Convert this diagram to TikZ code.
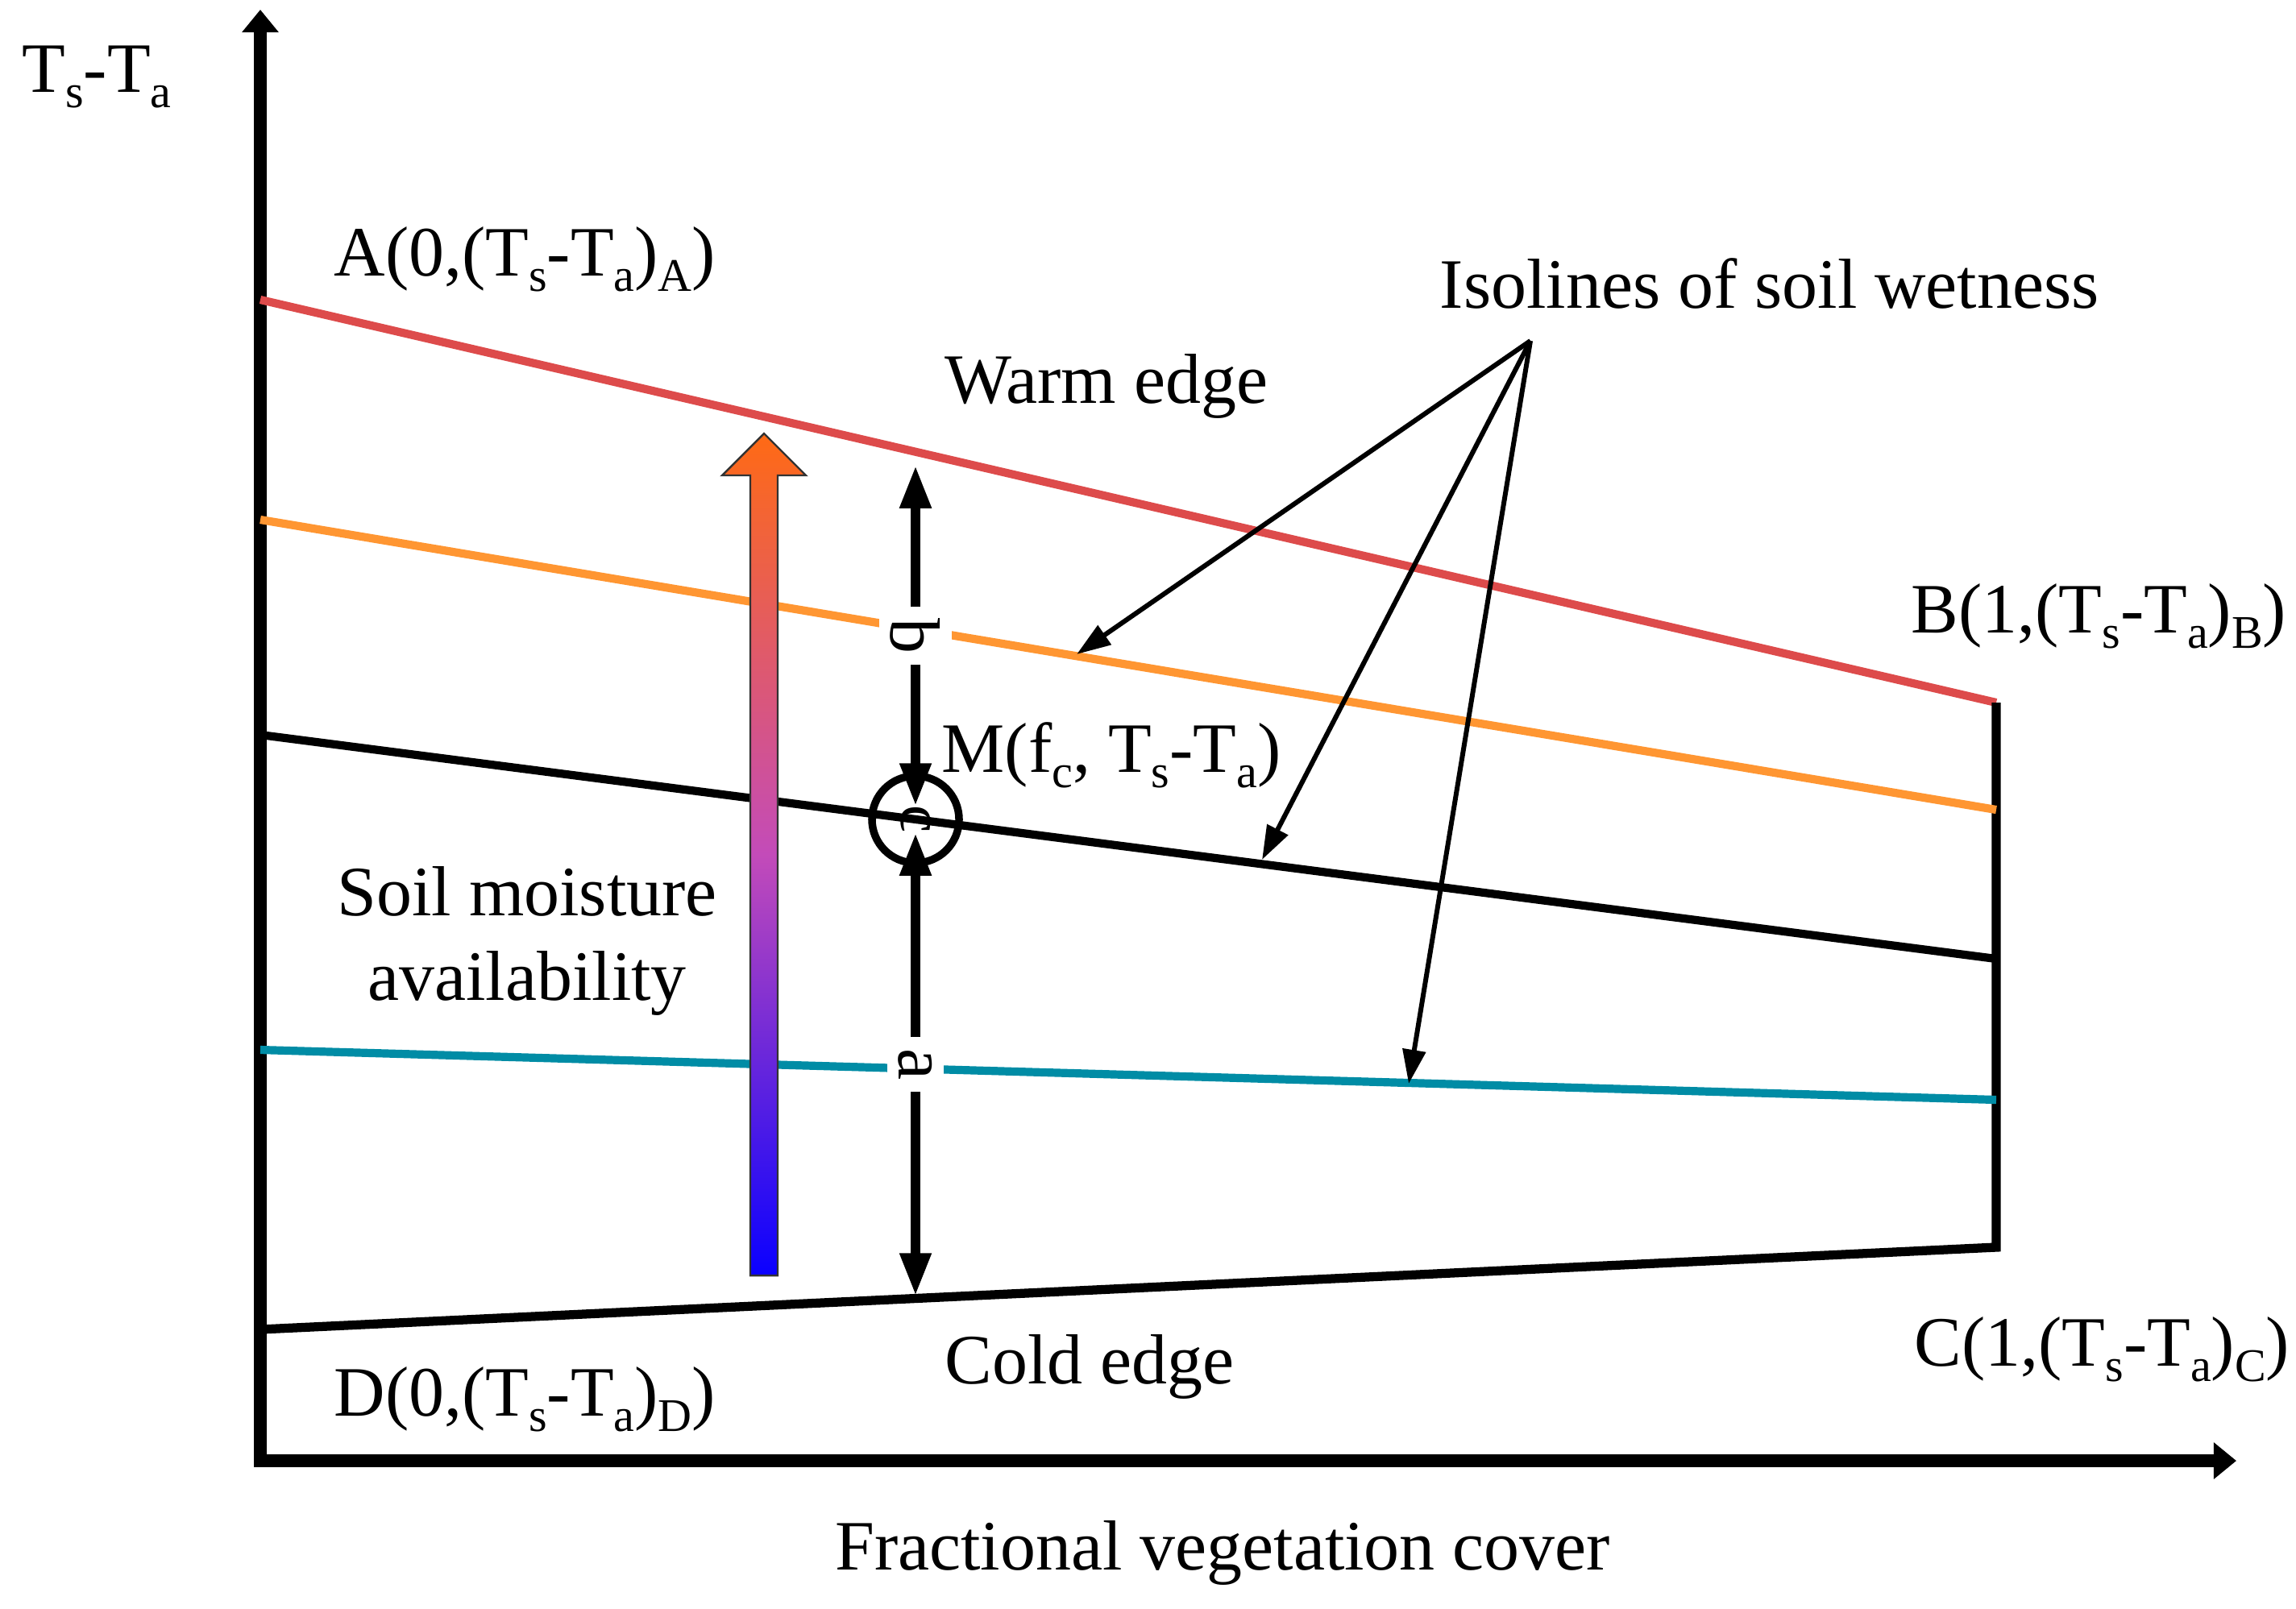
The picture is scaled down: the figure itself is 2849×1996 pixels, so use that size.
\documentclass[tikz,border=0pt]{standalone}
\usepackage{fontspec}
\setmainfont{Liberation Serif}
\usetikzlibrary{arrows.meta,positioning}

\newcommand{\low}[1]{\raisebox{-0.22em}{\fontsize{16.5}{16.5}\selectfont #1}}

\definecolor{warmred}{RGB}{221,75,75}
\definecolor{isoorange}{RGB}{255,150,50}
\definecolor{isoteal}{RGB}{0,140,165}
\definecolor{arrowtop}{RGB}{255,106,20}
\definecolor{arrowmid}{RGB}{195,75,185}
\definecolor{arrowbot}{RGB}{10,0,255}

\begin{document}
\begin{tikzpicture}[x=0.01cm,
					y=-0.01cm,
					font=\fontsize{25}{30}\selectfont,
					axis line/.style={line width=4.8pt, line join=miter,
						{Triangle[length=8pt,width=12.5pt]}-{Triangle[length=8pt,width=12.5pt]}},
					edge line/.style={line width=2.9pt},
					dim arrow/.style={line width=3.2pt,
						{Triangle[length=15pt,width=10.5pt]}-{Triangle[length=15pt,width=10.5pt]}},
					note arrow/.style={line width=1.7pt, -{Triangle[length=12pt,width=8pt]}},
					point label/.style={inner sep=0pt, anchor=base west},
					dim label/.style={fill=white, inner sep=4pt, rotate=-90}]

  \useasboundingbox (0,0) rectangle (2849,1996);

  % axes and corner points
  \coordinate (O) at (323,1813);
  \coordinate (Ytip) at (323,12);
  \coordinate (Xtip) at (2775,1813);
  \coordinate (A) at (323,372);
  \coordinate (B) at (2477,872);
  \coordinate (C) at (2477,1548);
  \coordinate (D) at (323,1650);

  % isolines
  \coordinate (or1) at (323,645);
  \coordinate (or2) at (2477,1005);
  \coordinate (bl1) at (323,912);
  \coordinate (bl2) at (2477,1190);
  \coordinate (te1) at (323,1303);
  \coordinate (te2) at (2477,1365);

  \draw[axis line] (Ytip) -- (O) -- (Xtip);

  \draw[edge line, warmred] (A) -- (B);
  \draw[edge line, line width=3.2pt, line join=miter] (B) -- (C) -- (D);
  \draw[edge line, isoorange] (or1) -- (or2);
  \draw[edge line] (bl1) -- (bl2);
  \draw[edge line, isoteal] (te1) -- (te2);

  % soil moisture arrow
  \shadedraw[top color=arrowtop, bottom color=arrowbot, middle color=arrowmid,
		draw=black!80, line width=0.7pt]
	(931,1583) -- (931,590) -- (896,590) -- (948,538)
	-- (1000,590) -- (965,590) -- (965,1583) -- cycle;

  % point M and distances a, b
  \node[draw, circle, line width=2.7pt, minimum size=1.08cm, inner sep=0pt,
		rotate=-90, font=\fontsize{22}{22}\selectfont] (M) at (1136,1017) {c};
  \coordinate (Mtop) at (1136,1000);
  \coordinate (Mbot) at (1136,1034);
  \coordinate (warmpt) at (1136,578);
  \coordinate (coldpt) at (1136,1608);

  \draw[dim arrow] (Mtop) -- node[dim label] {b} (warmpt);
  \draw[dim arrow] (Mbot) -- node[dim label] {a} (coldpt);

  % isolines annotation
  \coordinate (hub) at (1899,423);
  \coordinate (onor) at (1336,812);
  \coordinate (onbl) at (1566,1067);
  \coordinate (onte) at (1748,1345);
  \path[note arrow]
	(hub) edge (onor)
		  edge (onbl)
		  edge (onte);

  % labels
  \node[point label] (Tlab) at (27,114) {T\low{s}-T\low{a}};
  \node[point label] (Alab) at (414,342) {A(0,(T\low{s}-T\low{a})\low{A})};
  \node[point label] (warm) at (1172,500) {Warm edge};
  \node[point label] (iso) at (1786,382) {Isolines of soil wetness};
  \node[point label] (Blab) at (2371,785) {B(1,(T\low{s}-T\low{a})\low{B})};
  \node[point label] (Mlab) at (1168,958) {M(f\low{c}, T\low{s}-T\low{a})};
  \node[anchor=base, inner sep=0pt] (soil) at (654,1136) {Soil moisture};
  \node[anchor=base, inner sep=0pt] (avail) at (654,1241) {availability};
  \node[point label] (cold) at (1172,1717) {Cold edge};
  \node[point label] (Dlab) at (414,1757) {D(0,(T\low{s}-T\low{a})\low{D})};
  \node[point label] (Clab) at (2375,1695) {C(1,(T\low{s}-T\low{a})\low{C})};
  \node[anchor=base, inner sep=0pt] (xlab) at (1517,1948) {Fractional vegetation cover};
\end{tikzpicture}
\end{document}
